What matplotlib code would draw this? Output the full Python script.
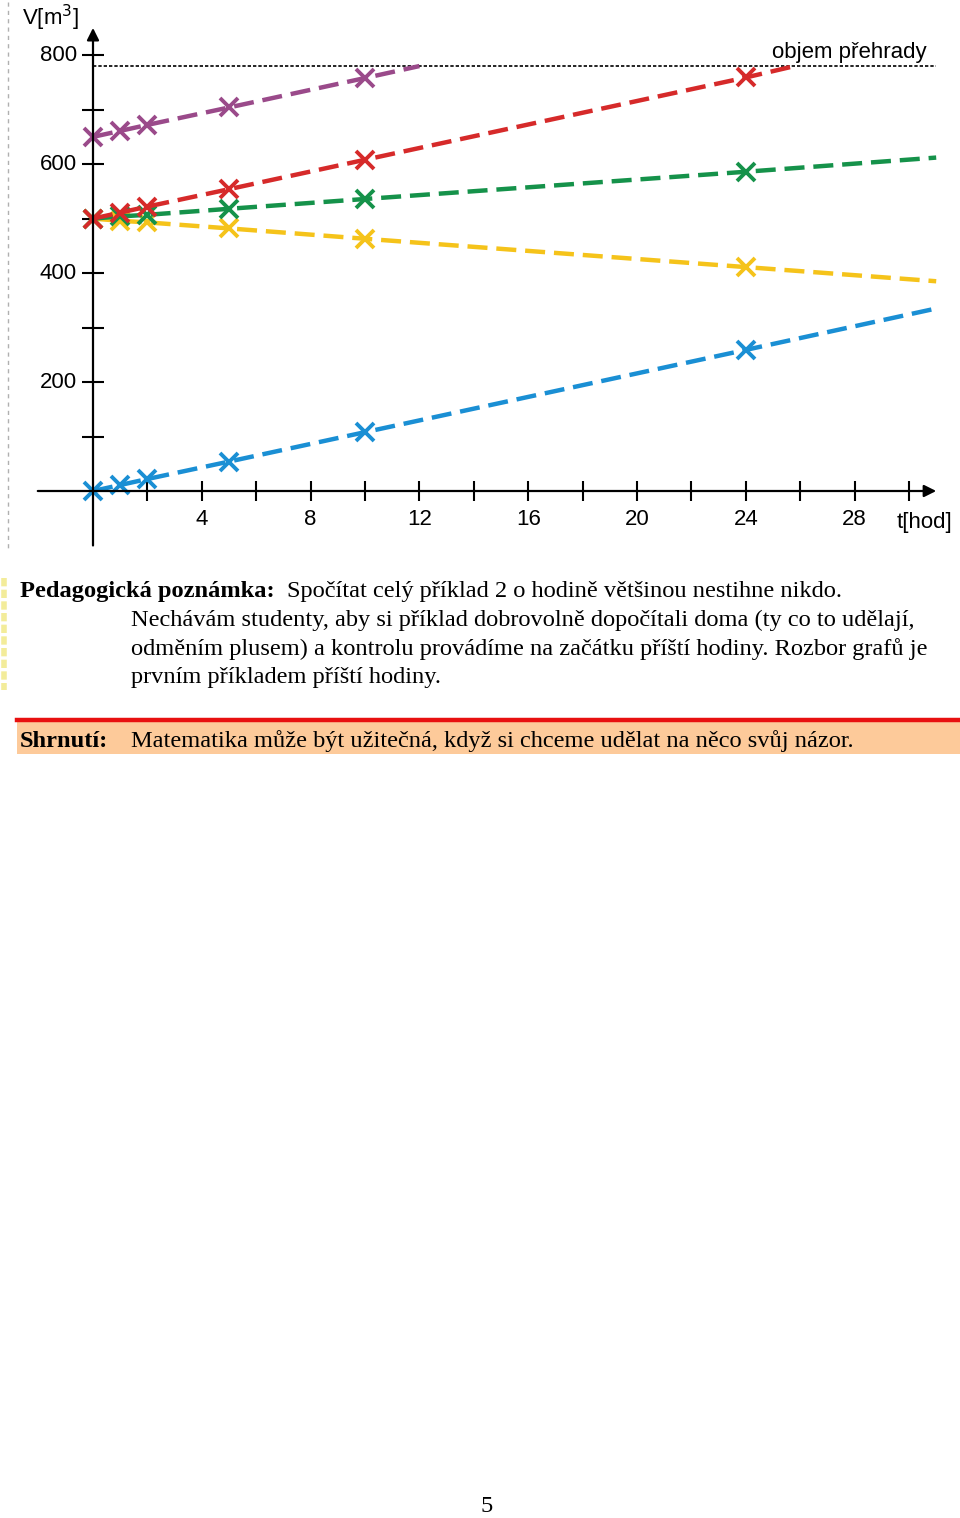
import matplotlib
matplotlib.use("Agg")
import matplotlib.pyplot as plt
from matplotlib.patches import Rectangle

# ---------------- data ----------------
t_marks = [0, 1, 2, 5, 10, 24]
blue_v = [0, 11, 22, 54, 108, 259]
yellow_v = [500, 496, 493, 482, 463, 411]
green_v = [500, 504, 507, 518, 536, 586]
red_v = [500, 511, 522, 554, 608, 759]
purple_t = [0, 1, 2, 5, 10]
purple_v = [650, 661, 672, 704, 758]
# line end points (no marker)
blue_end = (31.0, 335)
yellow_end = (31.0, 385)
green_end = (31.0, 612)
red_end = (25.8, 780)
purple_end = (12.0, 780)
capacity = 780
x_ticks_major = [4, 8, 12, 16, 20, 24, 28]
x_ticks_all = list(range(2, 31, 2))
y_ticks_major = [200, 400, 600, 800]
y_ticks_all = list(range(100, 801, 100))

C_BLUE = "#1a8fd4"
C_YELLOW = "#f5c31a"
C_GREEN = "#15924a"
C_RED = "#d62a2a"
C_PURPLE = "#9a4a8a"

W, H = 960, 1518
fig = plt.figure(figsize=(W / 100, H / 100), dpi=100)

# chart axes: covers pixels y 0..550 of figure
chart_h = 550
ax = fig.add_axes([0, 1 - chart_h / H, 1, chart_h / H])
ax.set_axis_off()
px_per_h = 27.2
x0 = 93
ax.set_xlim(-x0 / px_per_h, (W - x0) / px_per_h)
py_per_v = 0.5448
y0 = 491
ax.set_ylim((y0 - chart_h) / py_per_v, y0 / py_per_v)

sans = ["Liberation Sans", "DejaVu Sans"]
serif = ["Liberation Serif", "DejaVu Serif"]
fs_sans = 16

# axes lines with arrows
ax.annotate("", xy=(31.0, 0), xytext=(-2.03, 0),
            arrowprops=dict(arrowstyle="-|>", color="black", lw=1.6,
                            mutation_scale=18, shrinkA=0, shrinkB=0))
ax.annotate("", xy=(0, 850), xytext=(0, -100),
            arrowprops=dict(arrowstyle="-|>", color="black", lw=1.6,
                            mutation_scale=18, shrinkA=0, shrinkB=0))

# ticks
for xt in x_ticks_all:
    ax.plot([xt, xt], [-19, 19], color="black", lw=1.5, solid_capstyle="butt")
for yt in y_ticks_all:
    ax.plot([-0.4, 0.4], [yt, yt], color="black", lw=1.5, solid_capstyle="butt")
for xt in x_ticks_major:
    ax.text(xt, -52, str(xt), ha="center", va="center", fontsize=fs_sans, family=sans)
for yt in y_ticks_major:
    ax.text(-0.6, yt, str(yt), ha="right", va="center", fontsize=fs_sans, family=sans)

ax.text(-2.6, 868, r"V[m$^3$]", ha="left", va="center", fontsize=fs_sans, family=sans)
ax.text(29.55, -58, "t[hod]", ha="left", va="center", fontsize=fs_sans, family=sans)

# capacity line
ax.plot([0, 31.0], [capacity, capacity], color="black", lw=1.2, ls=(0, (2, 1.2)))
ax.text(24.95, 786, "objem přehrady", ha="left", va="bottom", fontsize=fs_sans, family=sans)

# series
dash = (0, (4.5, 2.0))
series = [
    (t_marks, blue_v, blue_end, C_BLUE),
    (t_marks, yellow_v, yellow_end, C_YELLOW),
    (t_marks, green_v, green_end, C_GREEN),
    (t_marks, red_v, red_end, C_RED),
    (purple_t, purple_v, purple_end, C_PURPLE),
]
for ts, vs, end, col in series:
    ax.plot(list(ts) + [end[0]], list(vs) + [end[1]], color=col, lw=3.2,
            ls=dash, dash_capstyle="butt")
    ax.plot(ts, vs, ls="none", marker="x", ms=13, mew=2.8, color=col)

# page decorations: dotted margin line at left of chart
fig.add_artist(plt.Line2D([8 / W, 8 / W], [1 - 2 / H, 1 - 548 / H], color="#b0b0b0",
                          lw=1, ls=(0, (3, 3))))
# yellowish left marker for the note
fig.add_artist(plt.Line2D([4 / W, 4 / W], [1 - 578 / H, 1 - 690 / H], color="#f3ec9a",
                          lw=4, ls=(0, (1.5, 0.6))))

def fy(y):
    return 1 - y / H

fs = 17.6
fig.text(20 / W, fy(591), "Pedagogická poznámka:", fontsize=fs, family=serif,
         fontweight="bold", ha="left", va="center")
fig.text(287 / W, fy(591), "Spočítat celý příklad 2 o hodině většinou nestihne nikdo.",
         fontsize=fs, family=serif, ha="left", va="center")
lines = [
    "Nechávám studenty, aby si příklad dobrovolně dopočítali doma (ty co to udělají,",
    "odměním plusem) a kontrolu provádíme na začátku příští hodiny. Rozbor grafů je",
    "prvním příkladem příští hodiny.",
]
for i, ln in enumerate(lines):
    fig.text(131 / W, fy(620 + 29 * i), ln, fontsize=fs, family=serif,
             ha="left", va="center")

# summary box
fig.add_artist(Rectangle((17 / W, fy(754)), (W - 17) / W, 33 / H,
                         transform=fig.transFigure, facecolor="#fdca9a",
                         edgecolor="none"))
fig.add_artist(plt.Line2D([17 / W, 1], [fy(720), fy(720)], color="#e81010", lw=3.2))
fig.text(20 / W, fy(741), "Shrnutí:", fontsize=fs, family=serif, fontweight="bold",
         ha="left", va="center")
fig.text(131 / W, fy(741), "Matematika může být užitečná, když si chceme udělat na něco svůj názor.",
         fontsize=fs, family=serif, ha="left", va="center")

fig.text(487 / W, fy(1507), "5", fontsize=fs, family=serif, ha="center", va="center")

fig.savefig("out.png", dpi=100)
